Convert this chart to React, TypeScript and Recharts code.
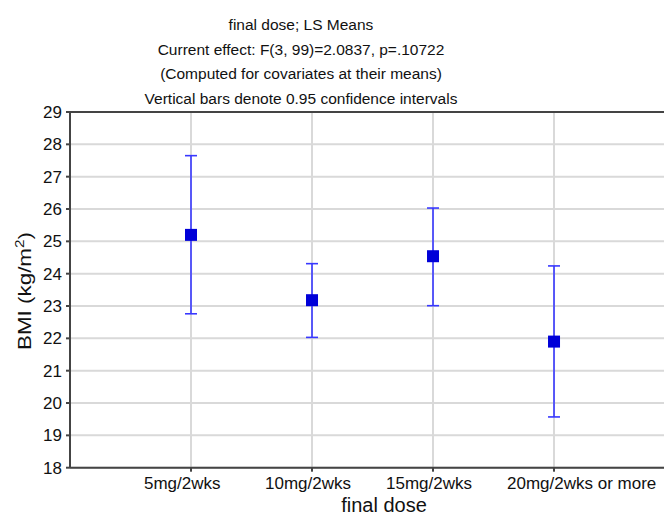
import React from "react";
import { ComposedChart, Scatter, ErrorBar, XAxis, YAxis, CartesianGrid, ReferenceLine } from "recharts";

const categories = ["5mg/2wks", "10mg/2wks", "15mg/2wks", "20mg/2wks or more"];
const means = [25.2, 23.18, 24.54, 21.9];
const lowers = [22.76, 22.03, 23.01, 19.57];
const uppers = [27.65, 24.31, 26.03, 24.24];
const yTicks = [18, 19, 20, 21, 22, 23, 24, 25, 26, 27, 28, 29];
const xTicks = [1, 2, 3, 4];
const titleLines = [
  "final dose; LS Means",
  "Current effect: F(3, 99)=2.0837, p=.10722",
  "(Computed for covariates at their means)",
  "Vertical bars denote 0.95 confidence intervals",
];

const data = categories.map((c, i) => ({
  x: i + 1,
  y: means[i],
  err: [means[i] - lowers[i], uppers[i] - means[i]],
}));

const FONT = "'Liberation Sans', Arial, sans-serif";

const Square = (props: any) => {
  const { cx, cy } = props;
  if (cx == null || cy == null) return null;
  return <rect x={cx - 6} y={cy - 6} width={12} height={12} fill="#0000d8" />;
};

const XTick = (props: any) => {
  const { x, y, payload } = props;
  const label = categories[payload.value - 1] ?? "";
  return (
    <text x={x - 47} y={y} dy={17} textAnchor="start" fontSize={17} fontFamily={FONT} fill="#111">
      {label}
    </text>
  );
};

export default function App() {
  const W = 664;
  const H = 507;
  return (
    <div style={{ position: "relative", width: W, height: H, overflow: "hidden" }}>
      <ComposedChart
        width={W}
        height={H}
        data={data}
        margin={{ top: 104, right: 0, left: 12, bottom: 17.3 }}
      >
        <CartesianGrid stroke="#d9d9d9" strokeWidth={2} horizontalValues={yTicks} verticalValues={xTicks} />
        <XAxis
          type="number"
          dataKey="x"
          domain={[0, 4.975]}
          ticks={xTicks}
          allowDataOverflow
          height={30}
          tickSize={4}
          tickMargin={0}
          tick={<XTick />}
          stroke="#444"
          strokeWidth={2}
          tickLine={{ stroke: "#444", strokeWidth: 2 }}
        />
        <YAxis
          type="number"
          dataKey="y"
          domain={[18, 29]}
          ticks={yTicks}
          allowDataOverflow
          width={50}
          tickSize={4}
          tickMargin={4}
          interval={0}
          tick={{ fontSize: 17, fontFamily: FONT, fill: "#111" }}
          stroke="#444"
          strokeWidth={2}
          tickLine={{ stroke: "#444", strokeWidth: 2 }}
        />
        <ReferenceLine y={29} stroke="#444" strokeWidth={2} />
        <Scatter data={data} dataKey="y" shape={<Square />} isAnimationActive={false}>
          <ErrorBar dataKey="err" direction="y" width={6} stroke="#3838ff" strokeWidth={1.6} isAnimationActive={false} />
        </Scatter>
      </ComposedChart>
      <svg
        width={W}
        height={H}
        style={{ position: "absolute", left: 0, top: 0, pointerEvents: "none" }}
      >
        {titleLines.map((t, i) => (
          <text
            key={i}
            x={293}
            y={22 + i * 24.5}
            textAnchor="middle"
            fontSize={15.5}
            fontFamily={FONT}
            fill="#111"
          >
            {t}
          </text>
        ))}
        <text x={376} y={504} textAnchor="middle" fontSize={20} fontFamily={FONT} fill="#111">
          final dose
        </text>
        <text
          transform="translate(23, 283) rotate(-90)"
          textAnchor="middle"
          fontSize={19}
          fontFamily={FONT}
          fill="#111"
          textLength={118}
          lengthAdjust="spacingAndGlyphs"
        >
          BMI (kg/m
          <tspan baselineShift="super" fontSize={13}>2</tspan>
          <tspan>)</tspan>
        </text>
      </svg>
    </div>
  );
}
